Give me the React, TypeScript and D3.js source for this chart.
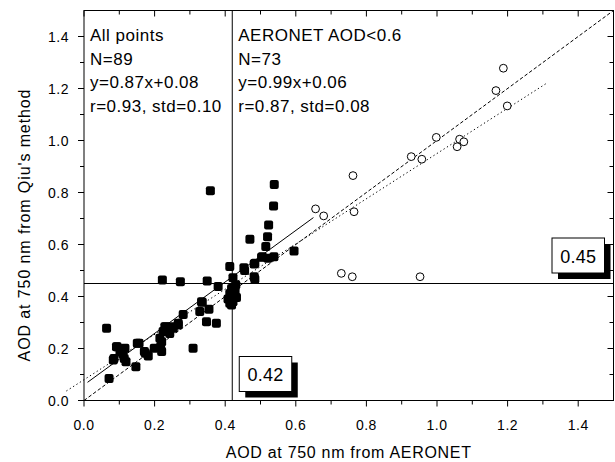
import React, { useRef, useEffect } from "react";
import * as d3 from "d3";

// AERONET AOD (x) vs retrieved AOD (y), AERONET AOD < 0.6 (filled squares)
const filledX = [
  0.064, 0.071, 0.083, 0.092, 0.102, 0.116, 0.114, 0.119, 0.147, 0.156,
  0.171, 0.182, 0.199, 0.220, 0.215, 0.224, 0.232, 0.243, 0.253, 0.267,
  0.281, 0.309, 0.333, 0.328, 0.354, 0.347, 0.375, 0.380, 0.413, 0.418,
  0.222, 0.273, 0.349, 0.358, 0.413, 0.422, 0.453, 0.482, 0.482, 0.470,
  0.520, 0.523, 0.537, 0.539, 0.515, 0.503, 0.538, 0.595, 0.484, 0.484,
  0.418, 0.422, 0.413, 0.422, 0.408, 0.521, 0.094, 0.085, 0.151, 0.174,
  0.217, 0.229, 0.220, 0.248, 0.267, 0.335, 0.505, 0.428, 0.432, 0.110,
  0.240, 0.455, 0.430
];
const filledY = [
  0.278, 0.085, 0.156, 0.207, 0.188, 0.201, 0.162, 0.149, 0.130, 0.220,
  0.188, 0.171, 0.201, 0.188, 0.239, 0.265, 0.284, 0.258, 0.278, 0.290,
  0.331, 0.201, 0.380, 0.342, 0.351, 0.303, 0.297, 0.438, 0.412, 0.367,
  0.463, 0.457, 0.460, 0.807, 0.515, 0.472, 0.511, 0.525, 0.476, 0.620,
  0.630, 0.675, 0.748, 0.831, 0.592, 0.551, 0.553, 0.575, 0.528, 0.466,
  0.431, 0.399, 0.374, 0.380, 0.390, 0.547, 0.207, 0.162, 0.220, 0.182,
  0.207, 0.284, 0.226, 0.284, 0.297, 0.378, 0.553, 0.418, 0.396, 0.180,
  0.270, 0.500, 0.445
];

// AERONET AOD >= 0.6 (open circles)
const openX = [
  1.188, 1.167, 1.199, 0.998, 1.064, 1.076, 1.057, 0.927, 0.957, 0.762,
  0.656, 0.679, 0.765, 0.729, 0.760, 0.952
];
const openY = [
  1.278, 1.192, 1.133, 1.012, 1.005, 0.995, 0.976, 0.938, 0.928, 0.865,
  0.737, 0.710, 0.726, 0.489, 0.476, 0.476
];

// regression lines: [slope, intercept, xStart, xEnd]
const fitAllPoints = [0.87, 0.08, -0.05, 1.31]; // dotted
const fitLowAod = [0.99, 0.06, 0.01, 0.65]; // solid
const oneToOne = [1, 0, 0, 1.5]; // dashed

const xThreshold = 0.42;
const yThreshold = 0.45;

const xTickLabels = [0.0, 0.2, 0.4, 0.6, 0.8, 1.0, 1.2, 1.4];
const yTickLabels = [0.0, 0.2, 0.4, 0.6, 0.8, 1.0, 1.2, 1.4];
const minorTicks = [0.1, 0.3, 0.5, 0.7, 0.9, 1.1, 1.3, 1.5];

const leftStats = ["All points", "N=89", "y=0.87x+0.08", "r=0.93, std=0.10"];
const rightStats = ["AERONET AOD<0.6", "N=73", "y=0.99x+0.06", "r=0.87, std=0.08"];

const FONT = "'Liberation Sans', Arial, Helvetica, sans-serif";

const ScatterChart = () => {
  const chartRef = useRef<SVGSVGElement>(null);

  useEffect(() => {
    const W = 615;
    const H = 462;
    const margin = { top: 10.5, right: 1.5, bottom: 61.5, left: 84 };

    const svg = d3.select(chartRef.current);
    svg.selectAll("*").remove();

    const x = d3.scaleLinear().domain([0, 1.5]).range([margin.left, W - margin.right]);
    const y = d3.scaleLinear().domain([0, 1.5]).range([H - margin.bottom, margin.top]);
    const [x0, x1] = x.range();
    const [y0, y1] = y.range();

    // clip for lines inside the frame (dotted fit runs past the left axis in the original)
    svg
      .append("defs")
      .append("clipPath")
      .attr("id", "plotClip")
      .append("rect")
      .attr("x", x0 - 20)
      .attr("y", y1)
      .attr("width", x1 - x0 + 20)
      .attr("height", y0 - y1);

    // threshold lines
    svg
      .append("line")
      .attr("x1", x(xThreshold))
      .attr("x2", x(xThreshold))
      .attr("y1", y0)
      .attr("y2", y1)
      .attr("stroke", "#000")
      .attr("stroke-width", 1);
    svg
      .append("line")
      .attr("x1", x0)
      .attr("x2", x1)
      .attr("y1", y(yThreshold))
      .attr("y2", y(yThreshold))
      .attr("stroke", "#000")
      .attr("stroke-width", 1);

    // fit lines
    const drawFit = (fit: number[], dash: string | null) => {
      const [m, b, xa, xb] = fit;
      const line = svg
        .append("line")
        .attr("x1", x(xa))
        .attr("y1", y(m * xa + b))
        .attr("x2", x(xb))
        .attr("y2", y(m * xb + b))
        .attr("stroke", "#000")
        .attr("stroke-width", 1)
        .attr("clip-path", "url(#plotClip)");
      if (dash) line.attr("stroke-dasharray", dash);
    };
    drawFit(oneToOne, "3.5,2.2");
    drawFit(fitAllPoints, "1.3,2.7");
    drawFit(fitLowAod, null);

    // open circles
    svg
      .append("g")
      .selectAll("circle")
      .data(openX.map((v, i) => [v, openY[i]]))
      .enter()
      .append("circle")
      .attr("cx", (d) => x(d[0]))
      .attr("cy", (d) => y(d[1]))
      .attr("r", 3.9)
      .attr("fill", "#fff")
      .attr("stroke", "#000")
      .attr("stroke-width", 1);

    // filled squares
    const s = 9;
    svg
      .append("g")
      .selectAll("rect")
      .data(filledX.map((v, i) => [v, filledY[i]]))
      .enter()
      .append("rect")
      .attr("x", (d) => x(d[0]) - s / 2)
      .attr("y", (d) => y(d[1]) - s / 2)
      .attr("width", s)
      .attr("height", s)
      .attr("rx", 2)
      .attr("fill", "#000");

    // frame
    svg
      .append("rect")
      .attr("x", x0)
      .attr("y", y1)
      .attr("width", x1 - x0)
      .attr("height", y0 - y1)
      .attr("fill", "none")
      .attr("stroke", "#000")
      .attr("stroke-width", 1);

    // ticks: outward on bottom/left, inward on top/right
    const ticks = svg.append("g").attr("stroke", "#000").attr("stroke-width", 1);
    const allTicks = [
      ...xTickLabels.map((v) => ({ v, len: 6 })),
      ...minorTicks.filter((v) => v < 1.5).map((v) => ({ v, len: 4 }))
    ];
    allTicks.forEach(({ v, len }) => {
      ticks.append("line").attr("x1", x(v)).attr("x2", x(v)).attr("y1", y0).attr("y2", y0 + len);
      ticks.append("line").attr("x1", x(v)).attr("x2", x(v)).attr("y1", y1).attr("y2", y1 + len);
      ticks.append("line").attr("x1", x0).attr("x2", x0 - len).attr("y1", y(v)).attr("y2", y(v));
      ticks.append("line").attr("x1", x1).attr("x2", x1 - len).attr("y1", y(v)).attr("y2", y(v));
    });

    // tick labels
    svg
      .append("g")
      .selectAll("text")
      .data(xTickLabels)
      .enter()
      .append("text")
      .attr("x", (d) => x(d))
      .attr("y", y0 + 29)
      .attr("text-anchor", "middle")
      .attr("font-family", FONT)
      .attr("font-size", 14)
      .attr("letter-spacing", 0.5)
      .text((d) => d3.format(".1f")(d));

    svg
      .append("g")
      .selectAll("text")
      .data(yTickLabels)
      .enter()
      .append("text")
      .attr("x", x0 - 15)
      .attr("y", (d) => y(d) + 5)
      .attr("text-anchor", "end")
      .attr("font-family", FONT)
      .attr("font-size", 14)
      .attr("letter-spacing", 0.5)
      .text((d) => d3.format(".1f")(d));

    // axis titles
    svg
      .append("text")
      .attr("x", (x0 + x1) / 2)
      .attr("y", 458)
      .attr("text-anchor", "middle")
      .attr("font-family", FONT)
      .attr("font-size", 16)
      .attr("letter-spacing", 0.7)
      .text("AOD at 750 nm from AERONET");

    svg
      .append("text")
      .attr("transform", "translate(30,225) rotate(-90)")
      .attr("text-anchor", "middle")
      .attr("font-family", FONT)
      .attr("font-size", 16)
      .attr("letter-spacing", 0.9)
      .text("AOD at 750 nm from Qiu's method");

    // statistics text
    const statBlock = (lines: string[], left: number) => {
      svg
        .append("g")
        .selectAll("text")
        .data(lines)
        .enter()
        .append("text")
        .attr("x", left)
        .attr("y", (d, i) => 41 + i * 23.7)
        .attr("font-family", FONT)
        .attr("font-size", 17)
        .attr("letter-spacing", 0.5)
        .text((d) => d);
    };
    statBlock(leftStats, x0 + 6);
    statBlock(rightStats, x(xThreshold) + 6);

    // value boxes with drop shadow
    const valueBox = (label: string, left: number, top: number) => {
      const bw = 52.5;
      const bh = 35;
      const g = svg.append("g");
      g.append("rect")
        .attr("x", left + 6)
        .attr("y", top + 6)
        .attr("width", bw)
        .attr("height", bh)
        .attr("fill", "#000");
      g.append("rect")
        .attr("x", left)
        .attr("y", top)
        .attr("width", bw)
        .attr("height", bh)
        .attr("fill", "#fff")
        .attr("stroke", "#000")
        .attr("stroke-width", 1);
      g.append("text")
        .attr("x", left + bw / 2)
        .attr("y", top + 24.5)
        .attr("text-anchor", "middle")
        .attr("font-family", FONT)
        .attr("font-size", 18)
        .attr("letter-spacing", 0.3)
        .text(label);
    };
    valueBox(d3.format(".2f")(xThreshold), x(xThreshold) + 7, y0 - 44);
    valueBox(d3.format(".2f")(yThreshold), x1 - 61.5, y(yThreshold) - 45.5);
  }, []);

  return (
    <svg
      ref={chartRef}
      width={615}
      height={462}
      style={{ position: "absolute", left: 0, top: 0, background: "#fff" }}
    ></svg>
  );
};

export default function App() {
  return <ScatterChart />;
}
